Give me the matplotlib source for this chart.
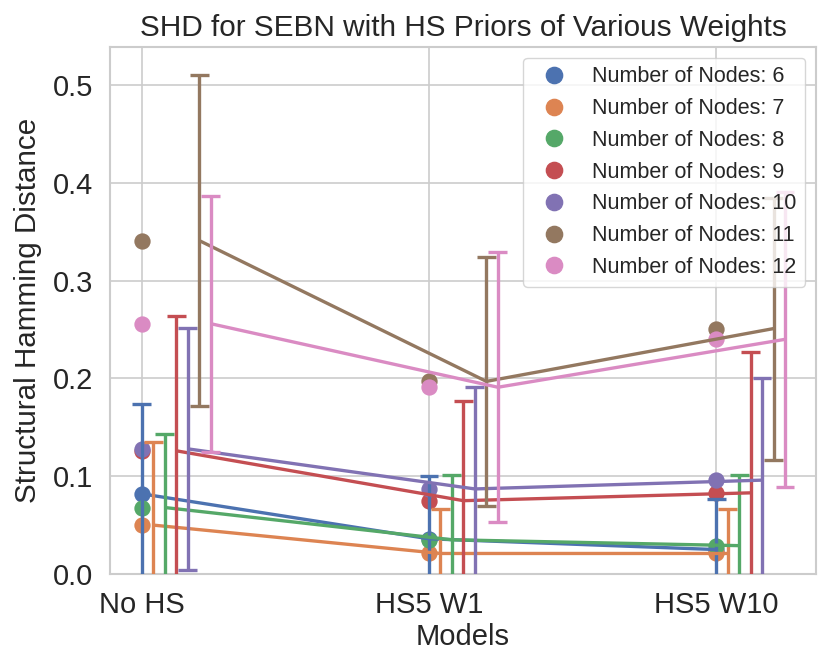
import numpy as np
import matplotlib
matplotlib.use("Agg")
import matplotlib.pyplot as plt
from matplotlib.lines import Line2D
import seaborn as sns

sns.set_theme(style="whitegrid")
plt.rcParams['font.family'] = ['Liberation Sans', 'DejaVu Sans']

models = ["No HS", "HS5 W1", "HS5 W10"]
nodes = [6, 7, 8, 9, 10, 11, 12]
shd_n6 = [0.082, 0.036, 0.025]
shd_n7 = [0.050, 0.021, 0.021]
shd_n8 = [0.068, 0.035, 0.029]
shd_n9 = [0.126, 0.075, 0.083]
shd_n10 = [0.128, 0.087, 0.096]
shd_n11 = [0.341, 0.197, 0.251]
shd_n12 = [0.256, 0.191, 0.240]
err_n6 = [0.092, 0.064, 0.052]
err_n7 = [0.085, 0.045, 0.045]
err_n8 = [0.075, 0.066, 0.072]
err_n9 = [0.138, 0.102, 0.144]
err_n10 = [0.124, 0.104, 0.104]
err_n11 = [0.169, 0.127, 0.134]
err_n12 = [0.131, 0.138, 0.151]

means = [shd_n6, shd_n7, shd_n8, shd_n9, shd_n10, shd_n11, shd_n12]
errs = [err_n6, err_n7, err_n8, err_n9, err_n10, err_n11, err_n12]
colors = sns.color_palette("deep", len(nodes))

fig = plt.figure(figsize=(8.3, 6.69), dpi=100)
ax = fig.add_axes([110/830, 1 - 574/669, (816-110)/830, (574-47)/669])

x = np.arange(len(models))
step = 0.04
cap = 0.033
lw = 2.4

# markers (not dodged)
for k, (m, c) in enumerate(zip(means, colors)):
    ax.scatter(x, m, s=138, color=c, zorder=2, linewidths=0)

# lines and error bars (dodged)
for k, (m, e, c) in enumerate(zip(means, errs, colors)):
    xs = x + k * step
    m = np.array(m); e = np.array(e)
    ax.plot(xs, m, color=c, lw=lw, zorder=3, solid_capstyle='butt')
    for xi, mi, ei in zip(xs, m, e):
        lo, hi = mi - ei, mi + ei
        ax.plot([xi, xi], [lo, hi], color=c, lw=lw, zorder=3, solid_capstyle='butt')
        ax.plot([xi - cap, xi + cap], [lo, lo], color=c, lw=lw, zorder=3, solid_capstyle='butt')
        ax.plot([xi - cap, xi + cap], [hi, hi], color=c, lw=lw, zorder=3, solid_capstyle='butt')

ax.set_xlim(-0.111, 2.348)
ax.set_ylim(0, 0.539)
ax.set_xticks(x)
ax.set_xticklabels(models)
ax.set_yticks([0.0, 0.1, 0.2, 0.3, 0.4, 0.5])
ax.tick_params(axis='both', labelsize=21, pad=6)
ax.set_xlabel("Models", fontsize=21, labelpad=3)
ax.set_ylabel("Structural Hamming Distance", fontsize=21.3, labelpad=8)
ax.set_title("SHD for SEBN with HS Priors of Various Weights", fontsize=21.4, pad=8)
ax.grid(True, color='#cccccc', lw=1.2)
for s in ax.spines.values():
    s.set_color('#cccccc')
    s.set_linewidth(1.5)

handles = [Line2D([], [], marker='o', linestyle='none', color=c, markersize=11.7)
           for c in colors]
labels = [f"Number of Nodes: {n}" for n in nodes]
leg = ax.legend(handles, labels, loc='upper right', fontsize=15.5, framealpha=0.8)

fig.savefig("out.png", dpi=100)
